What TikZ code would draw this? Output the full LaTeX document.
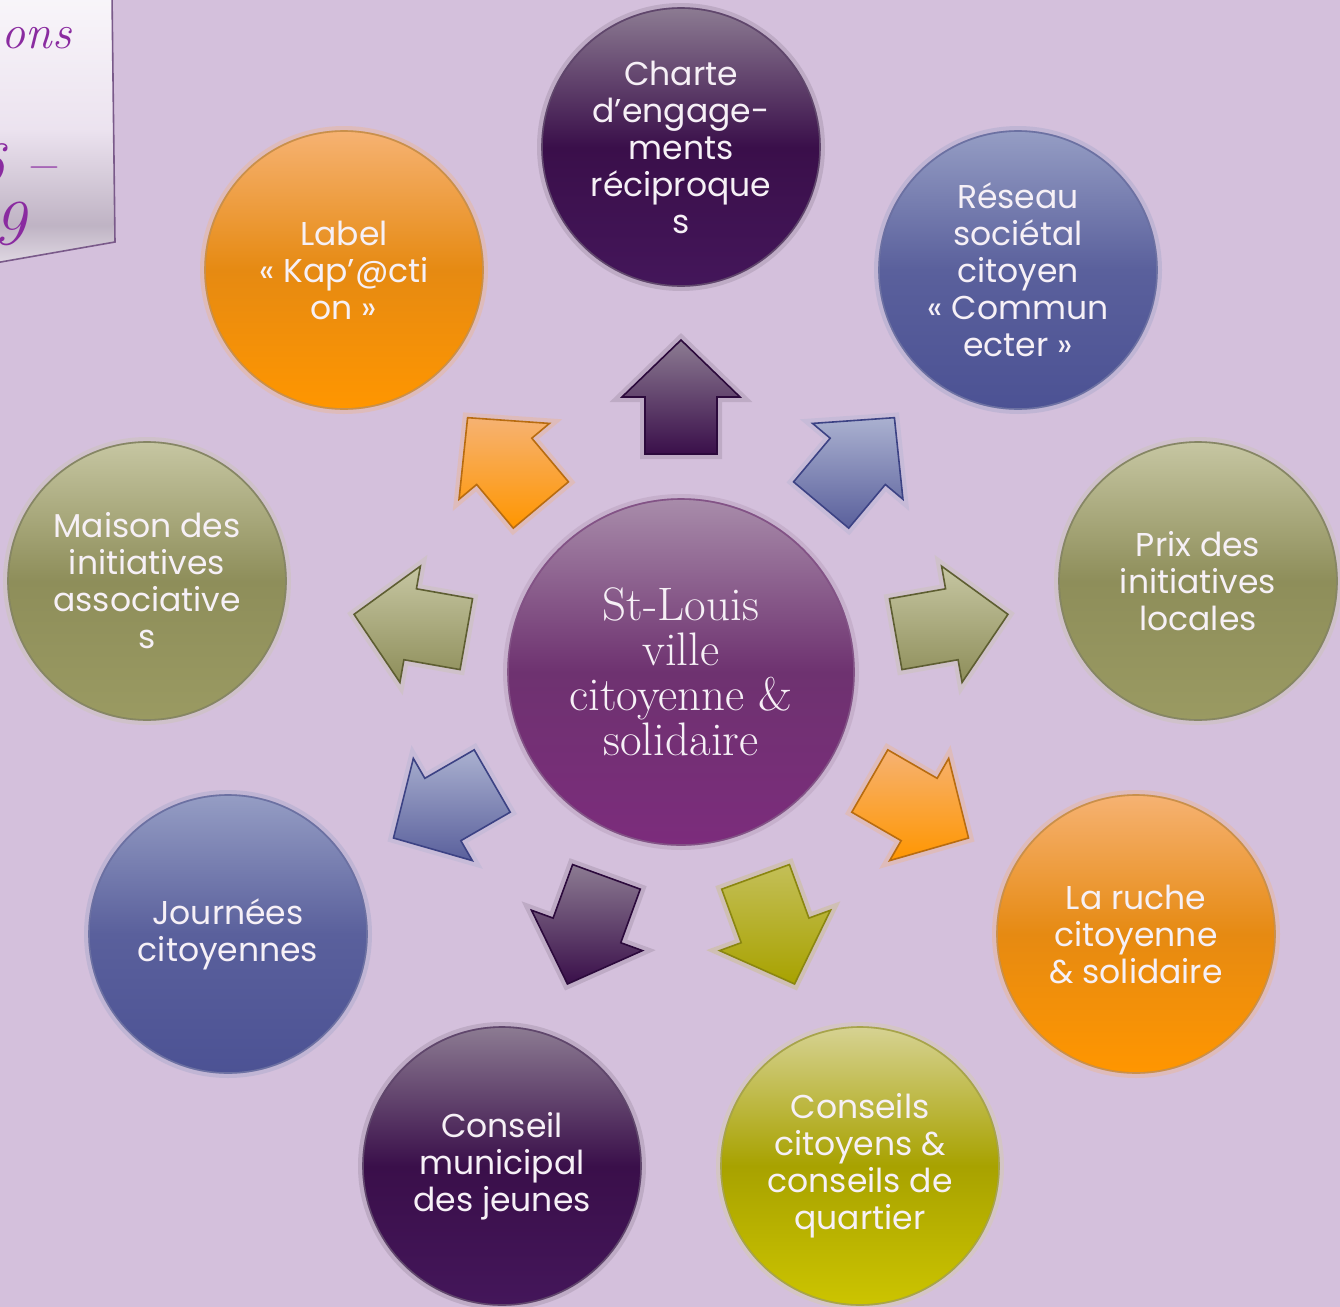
\documentclass[tikz,border=0pt]{standalone}
\usepackage{fontspec}
\usetikzlibrary{calc}
\newfontfamily\circfont{Poppins}
\definecolor{bg}{HTML}{D4C0DC}
\definecolor{txt}{HTML}{F6F0F6}
\definecolor{notetxt}{HTML}{8A2BA0}
\definecolor{noteedge}{HTML}{7A5A8A}
\definecolor{chT}{HTML}{8C7B92}\definecolor{chM}{HTML}{3A0F4A}\definecolor{chB}{HTML}{44165A}\definecolor{chE}{HTML}{2C0A3C}
\definecolor{blT}{HTML}{959DC4}\definecolor{blM}{HTML}{5A609C}\definecolor{blB}{HTML}{4C5294}\definecolor{blE}{HTML}{3C4284}
\definecolor{olT}{HTML}{C6C6A2}\definecolor{olM}{HTML}{8E8E5A}\definecolor{olB}{HTML}{9A9A62}\definecolor{olE}{HTML}{5E5E32}
\definecolor{orT}{HTML}{F6B272}\definecolor{orM}{HTML}{E68A12}\definecolor{orB}{HTML}{FF9600}\definecolor{orE}{HTML}{B86C10}
\definecolor{yeT}{HTML}{D6D292}\definecolor{yeM}{HTML}{A8A200}\definecolor{yeB}{HTML}{CCC400}\definecolor{yeE}{HTML}{8A8610}
\definecolor{ceT}{HTML}{A88CAA}\definecolor{ceM}{HTML}{6E3270}\definecolor{ceB}{HTML}{7C2C7C}\definecolor{ceE}{HTML}{5A1A5E}
\pgfdeclareverticalshading{papershade}{100bp}{color(0bp)=(white!80!bg); color(20bp)=(white!80!bg); color(32bp)=(white!30!bg!85!black); color(50bp)=(white!55!bg); color(80bp)=(white!92!bg); color(100bp)=(white)}
\tikzset{
  paint/.style n args={4}{top color=#1, bottom color=#3, middle color=#2, draw=#4,
      preaction={draw=#1, line width=5pt, opacity=0.3},
      postaction={draw=white, line width=0.8pt, opacity=0.25}},
  bubble/.style={circle, minimum size=139pt, inner sep=0pt, align=center, text=txt,
      line width=0.8pt, font=\circfont\fontsize{16.5}{18.5}\selectfont},
  hub/.style={circle, minimum size=173pt, inner sep=0pt, align=center, text=txt,
      line width=0.8pt, font=\fontsize{23.5}{22.5}\selectfont},
  arrowbody/.style={line width=0.8pt, line join=miter},
  notetext/.style={text=notetxt, inner sep=0pt, font=\itshape\fontsize{24}{24}\selectfont},
}
\newcommand\radarrow[5]{% #1 name, #2 angle, #3 top, #4 bottom, #5 edge
  \path (hubc) ++(#2:275) coordinate (#1);
  \draw[arrowbody, top color=#3, bottom color=#4, draw=#5,
        preaction={draw=#3, line width=5pt, opacity=0.3}]
    ($(#1)+(#2:57)$) -- ($(#1)+(#2+90:59)$) -- ($(#1)+(#2+90:36)$)
    -- ($(#1)+(#2+180:57)+(#2+90:36)$) -- ($(#1)+(#2+180:57)+(#2-90:36)$)
    -- ($(#1)+(#2-90:36)$) -- ($(#1)+(#2-90:59)$) -- cycle;
}
\begin{document}
\begin{tikzpicture}[x=0.5pt, y=-0.5pt]
\useasboundingbox (0,0) rectangle (1340,1307);
\fill[bg] (0,0) rectangle (1340,1307);
% note sheet
\shade[shading=papershade] (-5,-5) -- (112,-5) -- (115,242) -- (-5,263) -- cycle;
\draw[noteedge, line width=0.8pt] (112,-5) -- (115,242) -- (-5,263);
\node[notetext, anchor=base east] (n1) at (72,48) {ons};
\node[notetext, anchor=base east, font=\itshape\fontsize{30}{30}\selectfont] (n2) at (56,183) {6 –};
\node[notetext, anchor=base east, font=\itshape\fontsize{32}{32}\selectfont] (n3) at (26,244) {9};
% hub
\coordinate (hubc) at (681,672);
% arrows
\radarrow{a1}{-90}{chT}{chM}{chE}
\radarrow{a2}{-50}{blT!80!white}{blM}{blE}
\radarrow{a3}{-10}{olT}{olM}{olE}
\radarrow{a4}{30}{orT}{orB}{orE}
\radarrow{a5}{70}{yeT!60!yeM}{yeM}{yeE}
\radarrow{a6}{110}{chT}{chM}{chE}
\radarrow{a7}{150}{blT!80!white}{blM}{blE}
\radarrow{a8}{190}{olT}{olM}{olE}
\radarrow{a9}{230}{orT}{orB}{orE}
% circles
\node[hub, paint={ceT}{ceM}{ceB}{ceE}] (hub) at (hubc) {St-Louis\\ville\\citoyenne \&\\solidaire};
\node[bubble, paint={chT}{chM}{chB}{chE}] (charte) at (681,147) {Charte\\d’engage-\\ments\\réciproque\\s};
\node[bubble, paint={blT}{blM}{blB}{blE}] (reseau) at (1018,270) {Réseau\\sociétal\\citoyen\\« Commun\\ecter »};
\node[bubble, paint={olT}{olM}{olB}{olE}] (prix) at (1198,581) {Prix des\\initiatives\\locales};
\node[bubble, paint={orT}{orM}{orB}{orE}] (ruche) at (1136,934) {La ruche\\citoyenne\\\& solidaire};
\node[bubble, paint={yeT}{yeM}{yeB}{yeE}] (cons) at (860,1166) {Conseils\\citoyens \&\\conseils de\\quartier};
\node[bubble, paint={chT}{chM}{chB}{chE}] (cmj) at (502,1166) {Conseil\\municipal\\des jeunes};
\node[bubble, paint={blT}{blM}{blB}{blE}] (journ) at (228,934) {Journées\\citoyennes};
\node[bubble, paint={olT}{olM}{olB}{olE}] (maison) at (147,581) {Maison des\\initiatives\\associative\\s};
\node[bubble, paint={orT}{orM}{orB}{orE}] (label) at (344,270) {Label\\« Kap’@cti\\on »};
\end{tikzpicture}
\end{document}
